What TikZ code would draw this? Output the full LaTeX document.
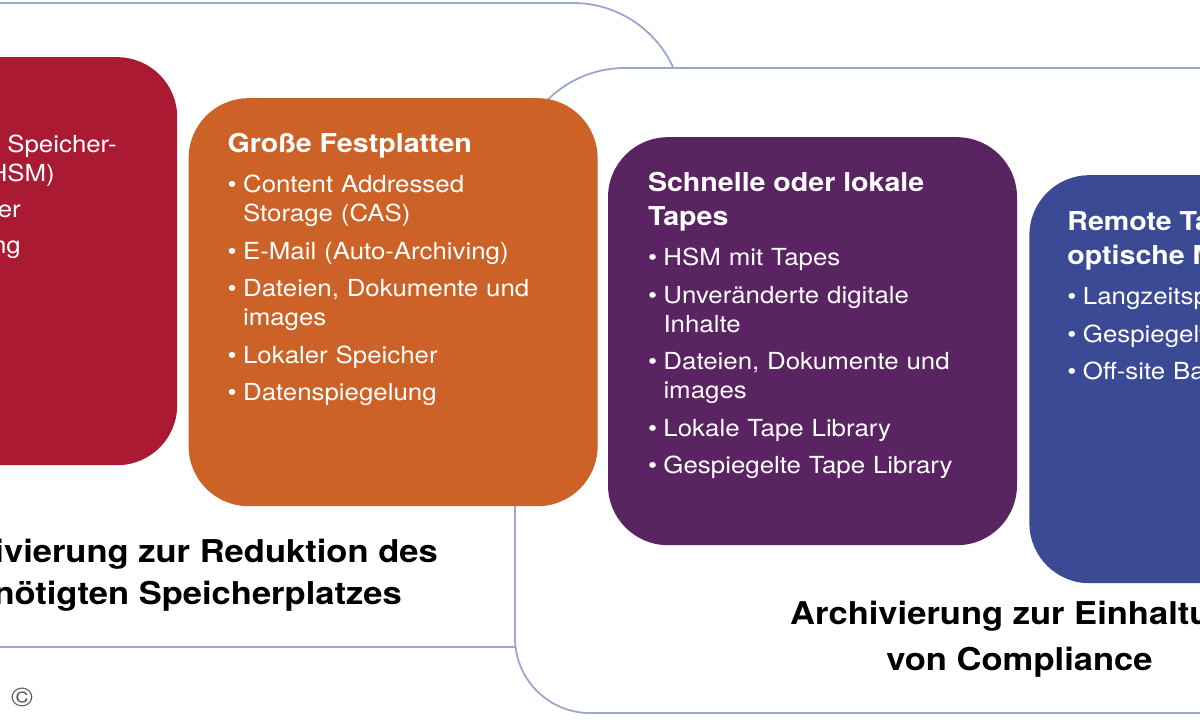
\documentclass[tikz,border=0pt]{standalone}
\usepackage{fontspec}
\setmainfont{TeX Gyre Heros}[FakeStretch=1.1]
\usetikzlibrary{positioning,calc}

\definecolor{boxred}{HTML}{AA1B33}
\definecolor{boxorange}{HTML}{CC6228}
\definecolor{boxpurple}{HTML}{5A2362}
\definecolor{boxblue}{HTML}{3B4A94}
\definecolor{framecol}{HTML}{9AA8CC}

% box heading and bullet item
\newcommand{\boxhead}[1]{{\fontsize{26}{34}\selectfont\bfseries #1\par}\vspace{2.5pt}}
\newcommand{\boxitem}[1]{\par\vspace{8.5pt}\hangindent=15.5pt\hangafter=1\noindent\hbox to 15.5pt{\textbullet\hss}#1\par}

\tikzset{
    % Define style for the two frames
    frame/.style={
           draw=framecol,
           fill=white,
           line width=1.8pt},
    % Define style for coloured boxes
    box/.style={
           rounded corners=60pt,
           minimum width=409pt,
           minimum height=408pt,
           inner sep=0pt},
    % Define style for box texts
    boxtext/.style={
           text=white,
           text width=380pt,
           align=left,
           anchor=base west,
           inner sep=0pt,
           font=\fontsize{23.5}{29}\selectfont},
    boxfrag/.style={
           text=white,
           inner sep=0pt,
           anchor=base east,
           font=\fontsize{23.5}{29}\selectfont},
    caption/.style={
           inner sep=0pt,
           font=\fontsize{31.4}{40}\selectfont\bfseries}
}

\begin{document}
\begin{tikzpicture}[x=1pt, y=1pt]
	\useasboundingbox (0,0) rectangle (1200,720);
	\clip (0,0) rectangle (1200,720);

	% left frame
	\filldraw[frame, rounded corners=110pt] (-300,73) rectangle (683,717);

	% right frame
	\filldraw[frame] (1500,652) -- (625,652) arc[start angle=90, end angle=180, radius=110]
		-- (515,82) arc[start angle=180, end angle=270, radius=75] -- (1500,7) -- cycle;

	% boxes
	\node[box, fill=boxred, anchor=north west] (red) at (-232,663) {};
	\node[box, fill=boxorange, right=11pt of red.north east, anchor=north west, yshift=-41pt] (orange) {};
	\node[box, fill=boxpurple, right=10pt of orange.north east, anchor=north west, yshift=-39pt] (purple) {};
	\node[box, fill=boxblue, right=12pt of purple.north east, anchor=north west, yshift=-38pt] (blue) {};

	% red box text
	\node[boxfrag] (red-a) at (117,567) {Speicher-};
	\node[boxfrag] (red-b) at (55,538) {HSM)};
	\node[boxfrag] (red-c) at (21,502) {er};
	\node[boxfrag] (red-d) at (21,466) {ng};

	% orange box text
	\node[boxtext] (orange-text) at ($(orange.north west)+(39,-55)$) {%
		\boxhead{Große Festplatten}
		\boxitem{Content Addressed\newline Storage (CAS)}
		\boxitem{E-Mail (Auto-Archiving)}
		\boxitem{Dateien, Dokumente und\newline images}
		\boxitem{Lokaler Speicher}
		\boxitem{Datenspiegelung}};

	% purple box text
	\node[boxtext] (purple-text) at ($(purple.north west)+(40,-55)$) {%
		\boxhead{Schnelle oder lokale\newline Tapes}
		\boxitem{HSM mit Tapes}
		\boxitem{Unveränderte digitale\newline Inhalte}
		\boxitem{Dateien, Dokumente und\newline images}
		\boxitem{Lokale Tape Library}
		\boxitem{Gespiegelte Tape Library}};

	% blue box text
	\node[boxtext] (blue-text) at ($(blue.north west)+(38,-56)$) {%
		\boxhead{Remote Ta\newline optische M}
		\boxitem{Langzeitsp}
		\boxitem{Gespiegelt}
		\boxitem{Off-site Ba}};

	% captions
	\node[caption, anchor=base east] (left-cap-a) at (438,157) {ivierung zur Reduktion des};
	\node[caption, anchor=base east] (left-cap-b) at (402,115) {nötigten Speicherplatzes};
	\node[caption, anchor=base west] (right-cap-a) at (790,95) {Archivierung zur Einhaltu};
	\node[caption, anchor=base] (right-cap-b) at (1019.5,49) {von Compliance};

	% copyright mark
	\node[inner sep=0pt, text=gray!70!black, font=\fontsize{27}{27}\selectfont] (copy) at (22,23) {\textcopyright};

\end{tikzpicture}
\end{document}
